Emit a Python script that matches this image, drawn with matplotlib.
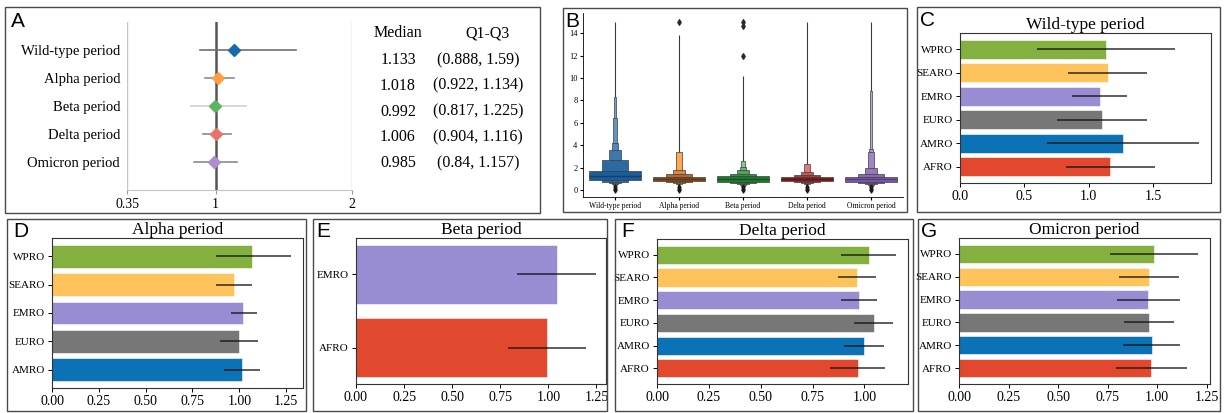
import numpy as np
import matplotlib
matplotlib.use("Agg")
import matplotlib.pyplot as plt
from matplotlib.patches import Rectangle
from matplotlib.colors import to_rgb

plt.rcParams['font.family'] = ['Liberation Serif', 'DejaVu Serif']

W, H = 1226, 413

### data
### ==================================================

# panel A: median and Q1-Q3 by period
periods = ['Wild-type period', 'Alpha period', 'Beta period', 'Delta period', 'Omicron period']
medians = [1.133, 1.018, 0.992, 1.006, 0.985]
q1 = [0.888, 0.922, 0.817, 0.904, 0.84]
q3 = [1.59, 1.134, 1.225, 1.116, 1.157]

# panel B: letter values (widest box first)
wt_upper = [1.70, 2.68, 3.55, 4.20, 6.40, 8.30]
wt_lower = [0.88, 0.74, 0.62, 0.54, 0.47, 0.42]
alpha_upper = [1.18, 1.45, 1.80, 3.40]
alpha_lower = [0.85, 0.72, 0.60, 0.50]
beta_upper = [1.22, 1.45, 1.75, 2.10, 2.60]
beta_lower = [0.72, 0.60, 0.50, 0.42, 0.36]
delta_upper = [1.15, 1.30, 1.60, 2.30]
delta_lower = [0.85, 0.72, 0.60, 0.50]
omicron_upper = [1.20, 1.40, 2.00, 3.40, 3.70, 8.80]
omicron_lower = [0.75, 0.62, 0.52, 0.45, 0.40, 0.36]
box_medians = [1.25, 1.02, 1.00, 1.00, 0.98]
whisker_top = [15.0, 13.8, 10.2, 15.0, 15.0]
high_outliers = [[], [15.0], [12.0, 14.6, 15.0], [], []]
low_outliers = [0.0, 0.12, 0.25]

# panels C-G: ratio by WHO region, bar = value, line = Q1-Q3
wt_regions = ['AFRO', 'AMRO', 'EURO', 'EMRO', 'SEARO', 'WPRO']
wt_vals = [1.166, 1.27, 1.104, 1.088, 1.148, 1.135]
wt_lo = [0.82, 0.679, 0.756, 0.868, 0.84, 0.60]
wt_hi = [1.513, 1.86, 1.45, 1.295, 1.456, 1.67]

alpha_regions = ['AMRO', 'EURO', 'EMRO', 'SEARO', 'WPRO']
alpha_vals = [1.013, 0.997, 1.022, 0.971, 1.069]
alpha_lo = [0.916, 0.898, 0.957, 0.873, 0.873]
alpha_hi = [1.111, 1.099, 1.095, 1.069, 1.277]

beta_regions = ['AFRO', 'EMRO']
beta_vals = [0.995, 1.044]
beta_lo = [0.79, 0.838]
beta_hi = [1.195, 1.248]

delta_regions = ['AFRO', 'AMRO', 'EURO', 'EMRO', 'SEARO', 'WPRO']
delta_vals = [0.968, 0.997, 1.044, 0.973, 0.965, 1.021]
delta_lo = [0.835, 0.903, 0.952, 0.887, 0.874, 0.887]
delta_hi = [1.098, 1.094, 1.137, 1.061, 1.056, 1.15]

omicron_regions = ['AFRO', 'AMRO', 'EURO', 'EMRO', 'SEARO', 'WPRO']
omicron_vals = [0.969, 0.972, 0.961, 0.956, 0.961, 0.984]
omicron_lo = [0.791, 0.829, 0.834, 0.796, 0.809, 0.762]
omicron_hi = [1.151, 1.117, 1.087, 1.117, 1.112, 1.208]

### styles
### ==================================================

marker_colors = ['#1a6aab', '#ffa040', '#5cb361', '#e8726c', '#ae8ed0']
ci_colors = ['#707070', '#8c8c8c', '#d0d0d0', '#8c8c8c', '#8c8c8c']
boxen_dark = ['#1c5c98', '#8b4a1c', '#1e7a30', '#8b1e1e', '#7a5aa8']
boxen_light = ['#6ea4d4', '#ffa850', '#86c98a', '#e07a7a', '#bda2dc']
region_colors = {'WPRO': '#84b040', 'SEARO': '#ffc35c', 'EMRO': '#988cd2',
                 'EURO': '#777777', 'AMRO': '#0b72b5', 'AFRO': '#e2482d'}


def px_axes(fig, x0, y0, x1, y1):
    return fig.add_axes([x0 / W, 1 - y1 / H, (x1 - x0) / W, (y1 - y0) / H])


def px_text(fig, x, y, s, **kw):
    return fig.text(x / W, 1 - y / H, s, **kw)


def panel_box(fig, x0, y0, x1, y1):
    fig.patches.append(Rectangle((x0 / W, 1 - y1 / H), (x1 - x0) / W, (y1 - y0) / H,
                                 transform=fig.transFigure, fill=False,
                                 edgecolor='#4a4a4a', lw=1.0, zorder=0))


def blend(c1, c2, t):
    t = min(max(t, 0.0), 1.0)
    a, b = np.array(to_rgb(c1)), np.array(to_rgb(c2))
    return tuple(a + (b - a) * t)


fig = plt.figure(figsize=(W / 100, H / 100), dpi=100)

# panel borders
for rect in [(5, 7, 540, 213), (563, 8, 907, 212), (917, 7, 1220, 212),
             (7, 219, 306, 411), (313, 219, 607, 411), (615, 219, 913, 411),
             (918, 219, 1220, 411)]:
    panel_box(fig, *rect)

for letter, x, y in [('A', 11, 12), ('B', 565, 12), ('C', 920, 11), ('D', 13, 222),
                     ('E', 316, 222), ('F', 621, 222), ('G', 921, 222)]:
    px_text(fig, x, y, letter, family='Liberation Sans', fontsize=15, va='top', ha='left')

### panel A: forest plot + table
### ==================================================
ax = px_axes(fig, 127, 22, 352, 190)
ypos = np.arange(len(periods))
for i in range(len(periods)):
    ax.plot([q1[i], q3[i]], [ypos[i], ypos[i]], color=ci_colors[i], lw=1.2, zorder=2)
    ax.plot(medians[i], ypos[i], marker='D', ms=6, color=marker_colors[i], zorder=3)
ax.axvline(1, color='#555555', lw=1.8, zorder=1)
ax.axvline(0.35, color='#c4c4c4', lw=1.0, zorder=1)
ax.axvline(2, color='#c4c4c4', lw=1.0, zorder=1)
ax.set_xlim(0.35, 2)
ax.set_ylim(5, -1)
ax.set_xticks([0.35, 1, 2])
ax.set_xticklabels(['0.35', '1', '2'], fontsize=10)
ax.set_yticks(ypos)
ax.set_yticklabels(periods, fontsize=10.5)
ax.tick_params(axis='y', length=0, pad=5)
ax.tick_params(axis='x', length=3, color='#999999', pad=3)
for s in ['top', 'right', 'left']:
    ax.spines[s].set_visible(False)
ax.spines['bottom'].set_color('#c4c4c4')

px_text(fig, 398, 33, 'Median', fontsize=11.5, ha='center', va='center')
px_text(fig, 487, 33, 'Q1-Q3', fontsize=11.5, ha='center', va='center')
for i in range(len(periods)):
    yy = 60 + i * 25.8
    px_text(fig, 398, yy, '{}'.format(medians[i]), fontsize=11.5, ha='center', va='center')
    px_text(fig, 478, yy, '({}, {})'.format(q1[i], q3[i]), fontsize=11.5, ha='center', va='center')

### panel B: boxen plot
### ==================================================
ax = px_axes(fig, 583, 13, 903, 197)
uppers = [wt_upper, alpha_upper, beta_upper, delta_upper, omicron_upper]
lowers = [wt_lower, alpha_lower, beta_lower, delta_lower, omicron_lower]
for i in range(len(periods)):
    up, lo = uppers[i], lowers[i]
    n = len(up)
    # whisker / dense outliers
    ax.vlines(i, up[-1], whisker_top[i], color='#3a3a3a', lw=0.8, zorder=1)
    ax.vlines(i, low_outliers[0], lo[-1], color='#1a1a1a', lw=1.5, zorder=1)
    for k in range(n - 1, -1, -1):
        w = 0.8 * 0.5 ** k
        if k >= 5:
            w = 0.03
        col = blend(boxen_dark[i], boxen_light[i], k / max(n - 1, 1))
        ax.bar(i, up[k] - lo[k], bottom=lo[k], width=w, color=col,
               edgecolor='#3d3d3d', lw=0.5, zorder=2 + (n - k))
    ax.hlines(box_medians[i], i - 0.4, i + 0.4, color=blend(boxen_dark[i], '#000000', 0.3),
              lw=1.0, zorder=10)
    if high_outliers[i]:
        ax.scatter([i] * len(high_outliers[i]), high_outliers[i], marker='d', s=8,
                   color='#2a2a2a', zorder=10)
    ax.scatter([i] * len(low_outliers), low_outliers, marker='d', s=6, color='#1a1a1a', zorder=10)
ax.set_xlim(-0.5, 4.5)
ax.set_ylim(-0.62, 15.8)
ax.set_yticks(np.arange(0, 15, 2))
ax.set_xticks(range(len(periods)))
ax.set_xticklabels(periods, fontsize=5.5)
ax.tick_params(axis='y', labelsize=6, length=2, pad=2)
ax.tick_params(axis='x', length=2, pad=1.5)
for s in ['top', 'right']:
    ax.spines[s].set_visible(False)
for s in ['left', 'bottom']:
    ax.spines[s].set_linewidth(0.6)

### panels C-G: bars by region
### ==================================================


def region_bars(rect, regions, vals, lo, hi, title, xmax, xticks, fmt):
    ax = px_axes(fig, *rect)
    y = np.arange(len(regions))
    ax.barh(y, vals, height=0.8, color=[region_colors[r] for r in regions],
            edgecolor='white', lw=0.4, zorder=2)
    ax.hlines(y, lo, hi, color='#111111', alpha=0.8, lw=1.2, zorder=3)
    ax.set_xlim(0, xmax)
    ax.set_xticks(xticks)
    ax.set_xticklabels([fmt.format(t) for t in xticks], fontsize=10)
    ax.set_yticks(y)
    ax.set_yticklabels(regions, fontsize=8)
    ax.tick_params(axis='both', length=3, width=0.7, pad=2)
    ax.set_title(title, fontsize=12.5, pad=2)
    for s in ax.spines.values():
        s.set_color('#333333')
        s.set_linewidth(0.8)
    return ax


region_bars((960, 33, 1211, 183), wt_regions, wt_vals, wt_lo, wt_hi,
            'Wild-type period', 1.95, [0, 0.5, 1.0, 1.5], '{:.1f}')
region_bars((52, 238, 303, 388), alpha_regions, alpha_vals, alpha_lo, alpha_hi,
            'Alpha period', 1.34, [0, 0.25, 0.5, 0.75, 1.0, 1.25], '{:.2f}')
region_bars((356, 238, 606, 384), beta_regions, beta_vals, beta_lo, beta_hi,
            'Beta period', 1.30, [0, 0.25, 0.5, 0.75, 1.0, 1.25], '{:.2f}')
region_bars((657, 239, 908, 384), delta_regions, delta_vals, delta_lo, delta_hi,
            'Delta period', 1.21, [0, 0.25, 0.5, 0.75, 1.0], '{:.2f}')
region_bars((959, 238, 1210, 384), omicron_regions, omicron_vals, omicron_lo, omicron_hi,
            'Omicron period', 1.267, [0, 0.25, 0.5, 0.75, 1.0, 1.25], '{:.2f}')

fig.savefig('out.png', dpi=100)
